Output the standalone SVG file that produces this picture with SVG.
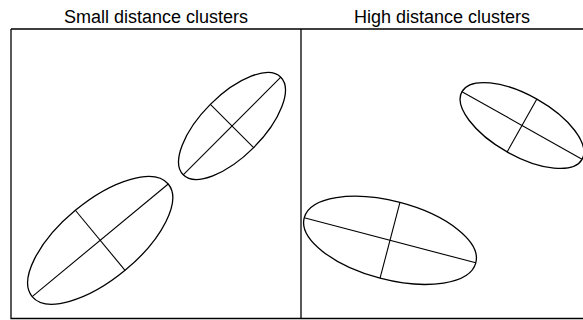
<svg xmlns="http://www.w3.org/2000/svg" width="583" height="320" viewBox="0 0 583 320">
<style>
.title{font-family:"Liberation Sans",Arial,sans-serif;font-size:18px;fill:#000;text-anchor:middle}
.frame{stroke:#000;stroke-width:1.3;fill:none}
.ell{stroke:#000;stroke-width:1.3;fill:none}
.ax{stroke:#000;stroke-width:1.1}
</style>
<rect width="583" height="320" fill="#fff"/>
<g id="titles">
<text class="title" x="156" y="23">Small distance clusters</text>
<text class="title" x="442" y="23">High distance clusters</text>
</g>
<g id="frame" class="frame">
<path d="M11 29 H584 M11 29 V318.5 H584 M301 29 V318.5"/>
</g>
<g id="cluster-small-1" transform="translate(100.2 240.3) rotate(-39.6)">
<ellipse class="ell" rx="88.3" ry="39"/>
<line class="ax" x1="-88.3" y1="0" x2="88.3" y2="0"/>
<line class="ax" x1="0" y1="-39" x2="0" y2="39"/>
</g>
<g id="cluster-small-2" transform="translate(232 126) rotate(-45)">
<ellipse class="ell" rx="69" ry="30.6"/>
<line class="ax" x1="-69" y1="0" x2="69" y2="0"/>
<line class="ax" x1="0" y1="-30.6" x2="0" y2="30.6"/>
</g>
<g id="cluster-high-1" transform="translate(390 240.3) rotate(14.7)">
<ellipse class="ell" rx="88.7" ry="39.2"/>
<line class="ax" x1="-88.7" y1="0" x2="88.7" y2="0"/>
<line class="ax" x1="0" y1="-39.2" x2="0" y2="39.2"/>
</g>
<g id="cluster-high-2" transform="translate(522 125.5) rotate(29.4)">
<ellipse class="ell" rx="68.9" ry="30.3"/>
<line class="ax" x1="-68.9" y1="0" x2="68.9" y2="0"/>
<line class="ax" x1="0" y1="-30.3" x2="0" y2="30.3"/>
</g>
</svg>
